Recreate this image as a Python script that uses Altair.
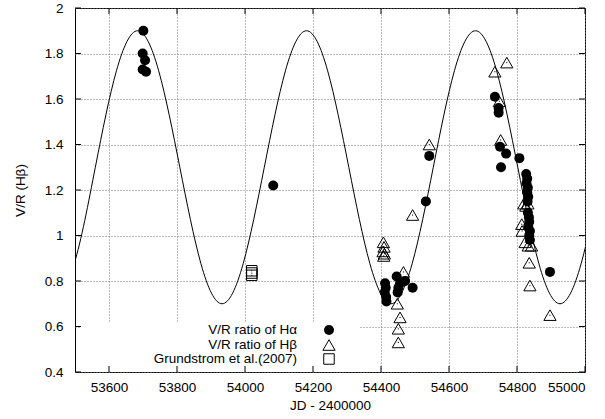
import altair as alt
import pandas as pd

# ---------------- data ----------------
ha_jd = [53701, 53699, 53706, 53699, 53709,
         54083,
         54412, 54414, 54411, 54415, 54416,
         54446, 54456, 54451, 54449, 54471, 54493,
         54532, 54542,
         54735, 54746, 54746, 54750, 54768, 54753, 54807,
         54827, 54830, 54828, 54832, 54830, 54833, 54831,
         54832, 54835, 54836, 54833, 54838, 54836, 54838,
         54897]
ha_vr = [1.90, 1.80, 1.77, 1.73, 1.72,
         1.22,
         0.79, 0.77, 0.75, 0.73, 0.71,
         0.82, 0.79, 0.77, 0.75, 0.80, 0.77,
         1.15, 1.35,
         1.61, 1.56, 1.54, 1.39, 1.36, 1.30, 1.34,
         1.27, 1.25, 1.23, 1.21, 1.19, 1.17, 1.15,
         1.10, 1.08, 1.06, 1.04, 1.02, 1.00, 0.98,
         0.84]

hb_jd = [54407, 54409, 54406, 54410, 54408,
         54466, 54448, 54456, 54451, 54451,
         54493, 54542,
         54735, 54770, 54748, 54752,
         54820, 54832, 54826, 54814, 54815, 54824, 54833, 54843,
         54836, 54838, 54897]
hb_vr = [0.97, 0.95, 0.93, 0.92, 0.91,
         0.84, 0.70, 0.64, 0.59, 0.53,
         1.09, 1.40,
         1.72, 1.76, 1.59, 1.42,
         1.14, 1.14, 1.13, 1.05, 1.02, 0.97, 0.955, 0.955,
         0.88, 0.78, 0.65]

gr_jd = [54020, 54020, 54020]
gr_vr = [0.845, 0.835, 0.825]

# fitted periodic curve at extrema / mid-levels
curve_jd = [53435.5, 53497.6, 53559.8, 53621.9, 53684.0, 53746.1, 53808.3,
            53870.4, 53932.5, 53994.6, 54056.8, 54118.9, 54181.0, 54243.1,
            54305.3, 54367.4, 54429.5, 54491.6, 54553.8, 54615.9, 54678.0,
            54740.1, 54802.3, 54864.4, 54926.5, 54988.6, 55050.8]
curve_vr = [0.70, 0.876, 1.30, 1.724, 1.90, 1.724, 1.30, 0.876, 0.70,
            0.876, 1.30, 1.724, 1.90, 1.724, 1.30, 0.876, 0.70, 0.876,
            1.30, 1.724, 1.90, 1.724, 1.30, 0.876, 0.70, 0.876, 1.30]

x_ticks = [53600, 53800, 54000, 54200, 54400, 54600, 54800, 55000]
y_ticks = [0.4, 0.6, 0.8, 1.0, 1.2, 1.4, 1.6, 1.8, 2.0]
legend_labels = ["V/R ratio of H\u03b1", "V/R ratio of H\u03b2", "Grundstrom et al.(2007)"]
legend_shapes = ["circle", "triangle-up", "square"]

# ---------------- chart ----------------
W, H = 510, 364
FONT = "Liberation Sans"
FS = 13.5

xs = alt.Scale(domain=[53500, 55000], nice=False, zero=False)
ys = alt.Scale(domain=[0.4, 2.0], nice=False, zero=False)

curve_df = pd.DataFrame({"jd": curve_jd, "vr": curve_vr})
ha_df = pd.DataFrame({"jd": ha_jd, "vr": ha_vr})
hb_df = pd.DataFrame({"jd": hb_jd, "vr": hb_vr})
gr_df = pd.DataFrame({"jd": gr_jd, "vr": gr_vr})
xt_df = pd.DataFrame({"jd": x_ticks})
yt_df = pd.DataFrame({"vr": y_ticks})
one = pd.DataFrame({"a": [0]})

grid_axis_x = alt.Axis(values=x_ticks, format="d", grid=True, ticks=False, domain=False,
                       labelFont=FONT, labelFontSize=FS, labelColor="black", labelPadding=8,
                       title="JD - 2400000", titleFont=FONT, titleFontSize=FS,
                       titleFontWeight="normal", titleColor="black", titlePadding=5,
                       gridColor="#777777", gridDash=[1, 2], gridWidth=1)
grid_axis_y = alt.Axis(values=y_ticks, format="~g", grid=True, ticks=False, domain=False,
                       labelFont=FONT, labelFontSize=FS, labelColor="black", labelPadding=12,
                       title="V/R (H\u03b2)", titleFont=FONT, titleFontSize=FS,
                       titleFontWeight="normal", titleColor="black", titlePadding=17,
                       gridColor="#777777", gridDash=[1, 2], gridWidth=1)

curve = alt.Chart(curve_df).mark_line(color="black", strokeWidth=1, clip=True,
                                      interpolate="natural").encode(
    x=alt.X("jd:Q", scale=xs, axis=grid_axis_x),
    y=alt.Y("vr:Q", scale=ys, axis=grid_axis_y),
)

# blank box behind the key (gnuplot key hides the grid)
keybox = alt.Chart(one).mark_rect(color="white").encode(
    x=alt.value(5), x2=alt.value(285), y=alt.value(315), y2=alt.value(362)
)

TL = 6
tick_b = alt.Chart(xt_df).mark_rule(color="black", strokeWidth=1).encode(
    x=alt.X("jd:Q", scale=xs), y=alt.value(H), y2=alt.value(H - TL))
tick_t = alt.Chart(xt_df).mark_rule(color="black", strokeWidth=1).encode(
    x=alt.X("jd:Q", scale=xs), y=alt.value(0), y2=alt.value(TL))
tick_l = alt.Chart(yt_df).mark_rule(color="black", strokeWidth=1).encode(
    y=alt.Y("vr:Q", scale=ys), x=alt.value(0), x2=alt.value(TL))
tick_r = alt.Chart(yt_df).mark_rule(color="black", strokeWidth=1).encode(
    y=alt.Y("vr:Q", scale=ys), x=alt.value(W - TL), x2=alt.value(W))

ha = alt.Chart(ha_df).mark_point(shape="circle", filled=True, color="black",
                                 size=100, opacity=1).encode(
    x=alt.X("jd:Q", scale=xs), y=alt.Y("vr:Q", scale=ys))
hb = alt.Chart(hb_df).mark_point(shape="triangle-up", filled=False, color="black",
                                 size=150, strokeWidth=1, opacity=1).encode(
    x=alt.X("jd:Q", scale=xs), y=alt.Y("vr:Q", scale=ys))
hb_dot = alt.Chart(hb_df).mark_point(shape="circle", filled=True, color="black",
                                     size=1.5, opacity=1).encode(
    x=alt.X("jd:Q", scale=xs), y=alt.Y("vr:Q", scale=ys))
gr = alt.Chart(gr_df).mark_point(shape="square", filled=False, color="black",
                                 size=110, strokeWidth=1, opacity=1).encode(
    x=alt.X("jd:Q", scale=xs), y=alt.Y("vr:Q", scale=ys))
gr_dot = alt.Chart(gr_df).mark_point(shape="circle", filled=True, color="black",
                                     size=1.5, opacity=1).encode(
    x=alt.X("jd:Q", scale=xs), y=alt.Y("vr:Q", scale=ys))

layers = [keybox, curve, tick_b, tick_t, tick_l, tick_r, hb, hb_dot, gr, gr_dot, ha]

row_y = [322, 337, 351]
for lab, shp, yy in zip(legend_labels, legend_shapes, row_y):
    layers.append(alt.Chart(pd.DataFrame({"label": [lab]})).mark_text(
        align="right", baseline="middle", font=FONT, fontSize=FS, color="black").encode(
        x=alt.value(222), y=alt.value(yy), text="label:N"))
    if shp == "circle":
        m = alt.Chart(one).mark_point(shape="circle", filled=True, color="black",
                                      size=100, opacity=1)
    elif shp == "triangle-up":
        m = alt.Chart(one).mark_point(shape="triangle-up", filled=False, color="black",
                                      size=150, strokeWidth=1, opacity=1)
    else:
        m = alt.Chart(one).mark_point(shape="square", filled=False, color="black",
                                      size=110, strokeWidth=1, opacity=1)
    layers.append(m.encode(x=alt.value(254), y=alt.value(yy)))

chart = alt.layer(*layers).properties(
    width=W, height=H,
    autosize=alt.AutoSizeParams(type="none"),
    padding={"left": 75, "top": 8, "right": 20, "bottom": 47},
    background="white",
).configure_view(stroke="black", strokeWidth=1)

chart.save("out.html", embed_options={"renderer": "svg", "actions": False})
